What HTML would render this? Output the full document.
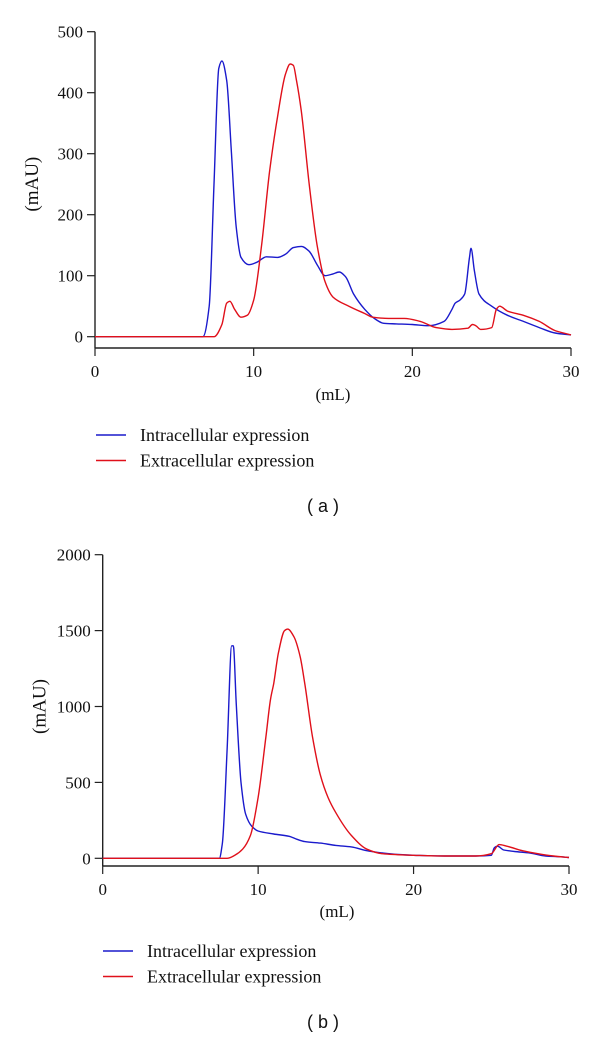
<!DOCTYPE html>
<html><head><meta charset="utf-8"><style>
html,body{margin:0;padding:0;background:#fff;}
svg{display:block;}
text{font-family:"Liberation Serif",serif;fill:#111;}
.t{font-size:17px;}
.yt{font-size:19px;}
.lg{font-size:18px;}
.cap{font-family:"Liberation Sans",sans-serif;font-size:18px;}
</style></head><body>
<svg id="svg" width="600" height="1039" viewBox="0 0 600 1039"></svg>
<script>
// Panel (a)
const aIntraX=[0,6.8,7.2,7.5,7.8,8.0,8.3,8.6,8.9,9.2,9.7,10.2,10.8,11.5,12.0,12.5,13.0,13.5,14.0,14.5,15.0,15.4,15.8,16.3,17.0,17.6,18.2,19,20,21,22,22.5,22.7,23.0,23.3,23.6,23.7,23.9,24.2,25,26,27,28,29,30];
const aIntraY=[0,0,50,250,440,452,420,300,180,130,118,122,131,130,135,146,148,140,118,100,103,106,98,70,45,30,22,21,20,18,25,45,55,60,70,130,145,110,70,50,35,25,15,6,3];
const aExtraX=[0,7.5,8.0,8.3,8.5,8.8,9.2,9.6,10.0,10.5,11,11.5,12,12.3,12.5,12.7,13,13.5,14,14.5,15,16,17,17.5,18.5,19.5,20.5,21.5,22.5,23.5,23.8,24.0,24.3,25.0,25.3,25.5,26,27,28,29,30];
const aExtraY=[0,0,20,55,58,45,32,35,60,150,270,360,430,447,445,420,370,250,150,90,65,50,38,32,30,30,25,15,12,14,20,18,12,15,45,50,42,35,25,10,3];
const aYTicks=[0,100,200,300,400,500];
const aXTicks=[0,10,20,30];
// Panel (b)
const bIntraX=[0,7.5,7.7,8.0,8.3,8.4,8.6,8.9,9.2,9.6,10,11,12,12.5,13,14,15,16,17,18,19,20,22,24,25,25.2,25.4,25.8,26.5,27.5,28.5,29.5,30];
const bIntraY=[0,0,100,700,1400,1400,1000,500,290,210,180,160,145,125,110,100,85,75,50,35,25,20,15,15,20,70,80,55,45,35,15,10,5];
const bExtraX=[0,8,8.5,9,9.5,10,10.5,10.8,11,11.3,11.7,11.9,12.3,12.7,13,13.5,14,14.5,15,16,17,18,20,22,24,25,25.5,26,27,28,29,30];
const bExtraY=[0,0,20,60,150,400,800,1050,1150,1350,1500,1510,1460,1330,1150,800,550,400,300,150,60,30,20,15,15,30,90,80,50,30,15,5];
const bYTicks=[0,500,1000,1500,2000];
const bXTicks=[0,10,20,30];

const NS="http://www.w3.org/2000/svg";
const svg=document.getElementById('svg');
function mk(tag,attrs,parent){const e=document.createElementNS(NS,tag);for(const k in attrs)e.setAttribute(k,attrs[k]);(parent||svg).appendChild(e);return e;}
// monotone cubic (Fritsch-Carlson) path
function monotone(pts){
  const n=pts.length,dx=[],s=[],m=[];
  for(let i=0;i<n-1;i++){dx[i]=pts[i+1][0]-pts[i][0];s[i]=(pts[i+1][1]-pts[i][1])/dx[i];}
  m[0]=s[0];m[n-1]=s[n-2];
  for(let i=1;i<n-1;i++){
    if(s[i-1]*s[i]<=0)m[i]=0;
    else{const w1=2*dx[i]+dx[i-1],w2=dx[i]+2*dx[i-1];m[i]=(w1+w2)/(w1/s[i-1]+w2/s[i]);}
  }
  let d='M'+pts[0][0].toFixed(1)+','+pts[0][1].toFixed(1);
  for(let i=0;i<n-1;i++){
    const h=dx[i]/3;
    d+='C'+(pts[i][0]+h).toFixed(1)+','+(pts[i][1]+m[i]*h).toFixed(1)+' '+(pts[i+1][0]-h).toFixed(1)+','+(pts[i+1][1]-m[i+1]*h).toFixed(1)+' '+pts[i+1][0].toFixed(1)+','+pts[i+1][1].toFixed(1);
  }
  return d;
}
function panel(p){
  const g=mk('g',{});
  
  
  const sx=v=>p.x0+(v-0)/30*(p.x1-p.x0);
  const sy=v=>p.y0-(v/p.ymax)*(p.y0-p.y1);
  const ya=mk('line',{x1:p.x0,x2:p.x0,y1:sy(p.ymax),y2:p.axY,stroke:'#222','stroke-width':1.4},g);
  
  
  const xa=mk('line',{x1:p.x0,x2:p.x1,y1:p.axY,y2:p.axY,stroke:'#222','stroke-width':1.4},g);
  
  
  p.yt.forEach(v=>{
    mk('line',{x1:p.x0-8,x2:p.x0,y1:sy(v),y2:sy(v),stroke:'#222','stroke-width':1.2},g);
    const t=mk('text',{x:p.x0-12,y:sy(v)+6,'text-anchor':'end',class:'t'},g);t.textContent=v;
    
    
  });
  p.xt.forEach(v=>{
    mk('line',{x1:sx(v),x2:sx(v),y1:p.axY,y2:p.axY+8,stroke:'#222','stroke-width':1.2},g);
    const t=mk('text',{x:sx(v),y:p.axY+29,'text-anchor':'middle',class:'t'},g);t.textContent=v;
    
    
  });
  const yl=mk('text',{x:0,y:0,'text-anchor':'middle',class:'yt',transform:`translate(${p.x0-57},${(p.y0+sy(p.ymax))/2}) rotate(-90)`},g);
  yl.textContent='(mAU)';
  
  
  const xl=mk('text',{x:p.xlX,y:p.xlY,'text-anchor':'middle',class:'t'},g);
  xl.textContent='(mL)';
  
  
  [[p.ix,p.iy,'#1a1acc','intracellular'],[p.ex,p.ey,'#e0101a','extracellular']].forEach(s=>{
    const pts=s[0].map((x,i)=>[sx(x),sy(s[1][i])]);
    const pa=mk('path',{d:monotone(pts),fill:'none',stroke:s[2],'stroke-width':1.4,'stroke-linejoin':'round'},g);
    
    
  });
  [['Intracellular expression','#1a1acc',0],['Extracellular expression','#e0101a',1]].forEach(l=>{
    const y=p.lgY+l[2]*25.5;
    const eg=mk('g',{},g);
    
    
    mk('line',{x1:p.lgX,x2:p.lgX+30,y1:y-6,y2:y-6,stroke:l[1],'stroke-width':1.4},eg);
    const t=mk('text',{x:p.lgX+44,y:y,class:'lg'},eg);t.textContent=l[0];
  });
  const c=mk('text',{x:p.capX,y:p.capY,'text-anchor':'middle',class:'cap'},g);
  c.textContent=p.cap;
  
  
}
panel({id:'panel-a',x0:95,x1:571,y0:336.7,y1:31.7,ymax:500,axY:348,yt:aYTicks,xt:aXTicks,ix:aIntraX,iy:aIntraY,ex:aExtraX,ey:aExtraY,xlX:333,xlY:400,lgX:96,lgY:441,capX:323,capY:512,cap:'( a )'});
panel({id:'panel-b',x0:102.7,x1:569,y0:858.3,y1:554.7,ymax:2000,axY:866,yt:bYTicks,xt:bXTicks,ix:bIntraX,iy:bIntraY,ex:bExtraX,ey:bExtraY,xlX:337,xlY:917,lgX:103,lgY:957,capX:323,capY:1028,cap:'( b )'});
</script>
</body></html>
